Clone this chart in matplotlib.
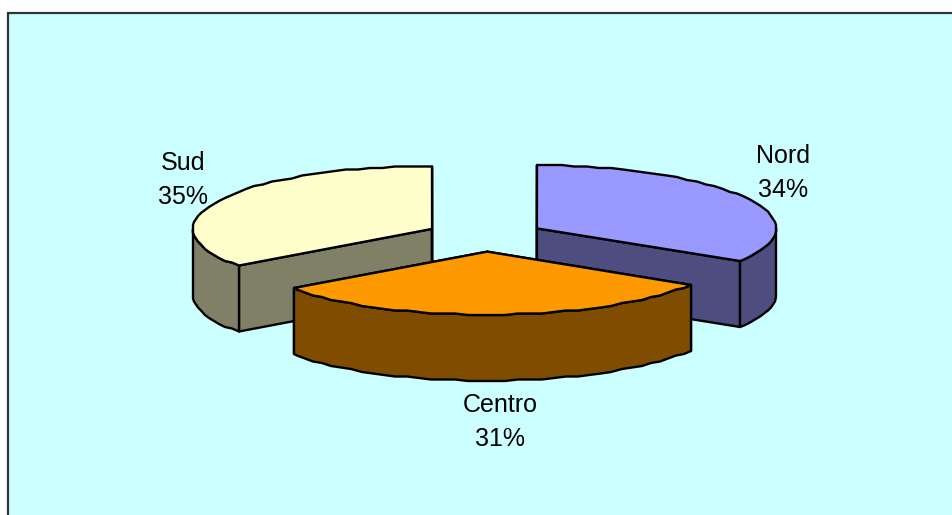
import matplotlib
matplotlib.use('Agg')
import matplotlib.pyplot as plt
from matplotlib.patches import Polygon, Rectangle
import numpy as np

# chart data, clockwise from 12 o'clock
labels = ['Nord', 'Centro', 'Sud']
shares = [33.8, 31.2, 35.0]
top_colors = ['#9999FF', '#FF9900', '#FFFFCC']
side_colors = ['#4D4D80', '#804D00', '#808066']

# pie geometry in pixels
cx, cy = 485, 236
rx, ry = 239, 63
depth = 66
explode = 0.2486
STEP = 3  # the original outline is a coarse polygon


def project(deg, ox, oy):
    t = np.radians(deg)
    # snap y to a grid to get the little steps of the original outline
    return np.round(ox + rx * np.sin(t)), np.round((oy - ry * np.cos(t)) / 1.5) * 1.5


def arc(a, b, ox, oy):
    degs = np.append(np.arange(a, b, STEP), b)
    x, y = project(degs, ox, oy)
    return np.column_stack([x, y])


def add_poly(ax, pts, color, z):
    ax.add_patch(Polygon(pts, closed=True, facecolor=color, edgecolor='black',
                         linewidth=1.7, joinstyle='round', zorder=z))


fig = plt.figure(figsize=(9.52, 5.15), dpi=100, facecolor='white')
ax = fig.add_axes([0, 0, 1, 1])
ax.set_xlim(0, 952)
ax.set_ylim(515, 0)
ax.axis('off')

# chart area, runs off the right and bottom of the image
ax.add_patch(Rectangle((8, 12.5), 960, 520, facecolor='#CCFFFF', edgecolor='#333333',
                       linewidth=1.6, zorder=0))

edges = np.cumsum([0] + shares) * 3.6
# back slices first, Centro sits in front
order = [2, 0, 1]
for n, i in enumerate(order):
    a, b = edges[i], edges[i + 1]
    mid = np.radians((a + b) / 2)
    ox = cx + explode * rx * np.sin(mid)
    oy = cy - explode * ry * np.cos(mid)
    z = 10 + n * 5
    down = np.array([0, depth])
    apex = np.array([ox, oy])

    # radial walls
    for edge in (a, b):
        p = np.array(project(edge, ox, oy))
        add_poly(ax, [apex, p, p + down, apex + down], side_colors[i], z)

    # rim, only the part facing the viewer
    lo, hi = max(a, 90), min(b, 270)
    if hi > lo:
        rim = arc(lo, hi, ox, oy)
        add_poly(ax, np.vstack([rim, (rim + down)[::-1]]), side_colors[i], z + 1)

    # top face
    add_poly(ax, np.vstack([apex, arc(a, b, ox, oy)]), top_colors[i], z + 2)

label_pos = {'Nord': (783, 173), 'Centro': (500, 422), 'Sud': (183, 180)}
for name, share in zip(labels, shares):
    x, y = label_pos[name]
    ax.text(x, y, f'{name}\n{share:.0f}%', ha='center', va='center', multialignment='center',
            fontsize=18, family='Liberation Sans', color='black', linespacing=1.52, zorder=40)

fig.savefig('out.png', dpi=100, facecolor='white')
plt.close(fig)
